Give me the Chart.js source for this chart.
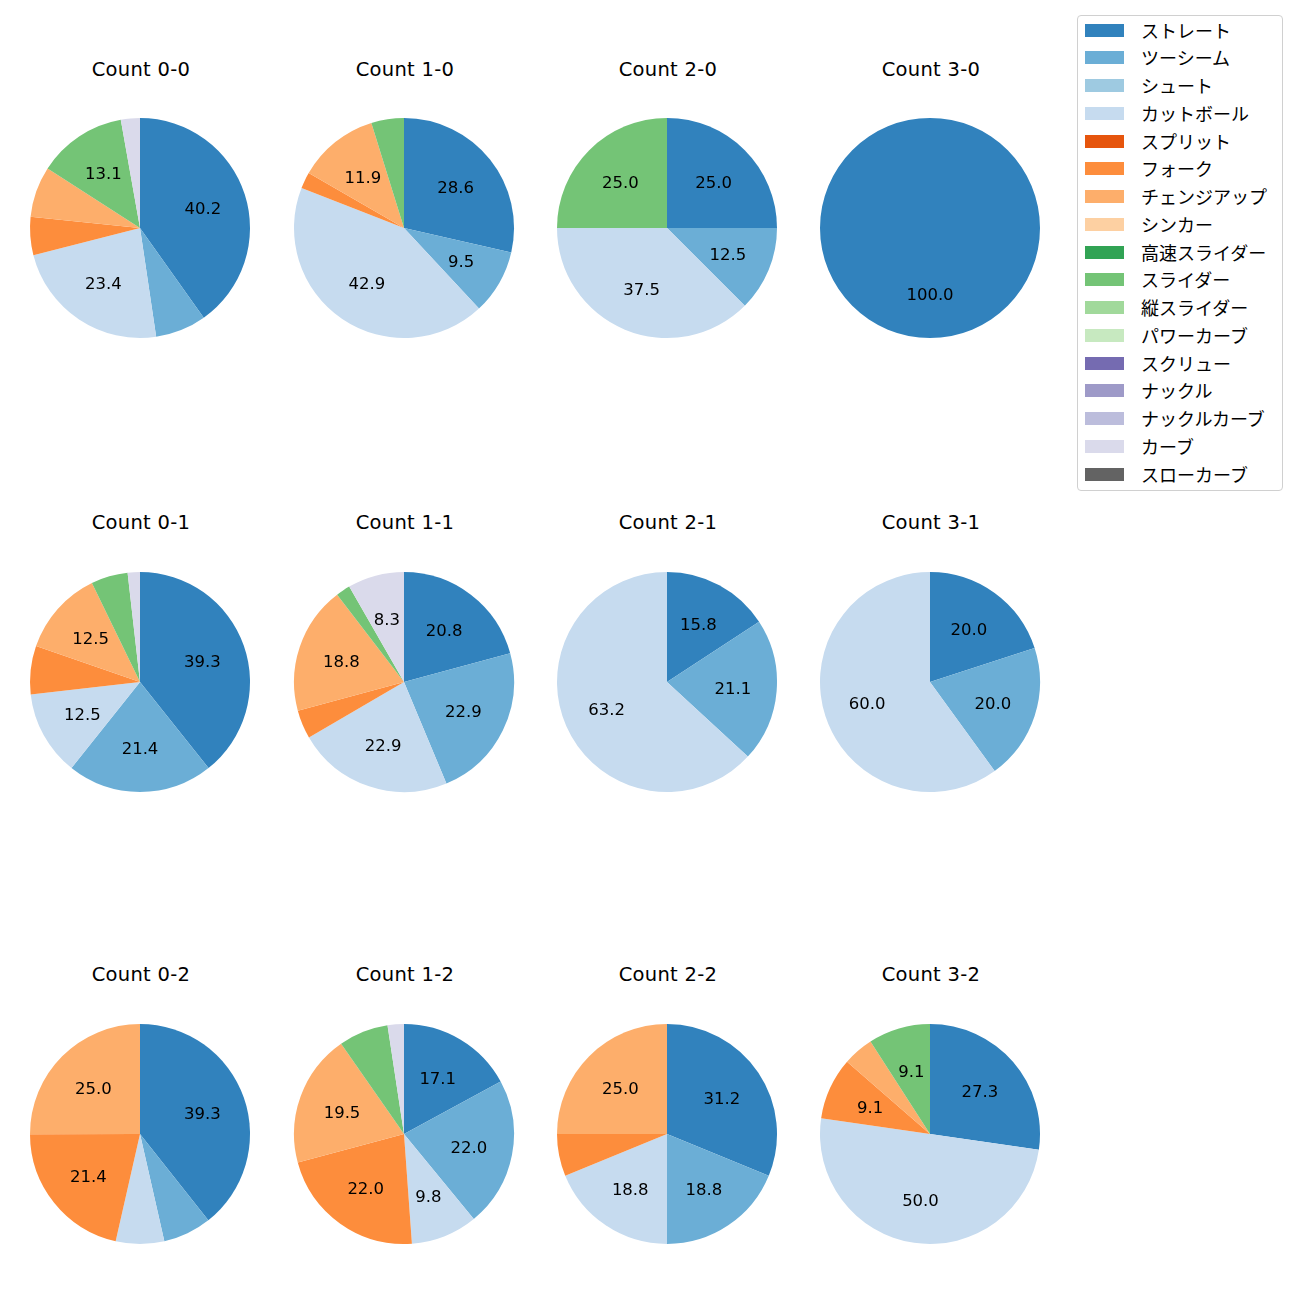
<!DOCTYPE html>
<html>
<head>
<meta charset="utf-8">
<script src="https://cdn.jsdelivr.net/npm/chart.js@4/dist/chart.umd.min.js"></script>
<style>
  html, body { margin: 0; padding: 0; background: #fff; }
  body { width: 1300px; height: 1300px; position: relative; overflow: hidden;
         font-family: "Noto Sans CJK JP", "Noto Sans", sans-serif; }
  .title { position: absolute; width: 240px; text-align: center; font-size: 19.5px;
           font-family: "DejaVu Sans", sans-serif; letter-spacing: 0.3px;
           color: #000; line-height: 1; }
  .pie { position: absolute; width: 224px; height: 224px; }
  #legend { position: absolute; left: 1077px; top: 15px; width: 204px; height: 474px;
            border: 1px solid #d0d0d0; border-radius: 4px; background: #fff; }
  .lg-box { position: absolute; left: 7px; width: 39px; height: 13px; }
  .lg-text { position: absolute; left: 63px; font-size: 18px; line-height: 1; white-space: nowrap; color: #000; }
</style>
</head>
<body>
<div id="legend"></div>
<script>
// Pitch types (legend order)
const pitchTypes = ["ストレート","ツーシーム","シュート","カットボール","スプリット","フォーク","チェンジアップ","シンカー","高速スライダー","スライダー","縦スライダー","パワーカーブ","スクリュー","ナックル","ナックルカーブ","カーブ","スローカーブ"];
const pitchColors = ["#3182bd","#6baed6","#9ecae1","#c6dbef","#e6550d","#fd8d3c","#fdae6b","#fdd0a2","#31a354","#74c476","#a1d99b","#c7e9c0","#756bb1","#9e9ac8","#bcbddc","#dadaeb","#636363"];

// Counts (titles)
const countLabels = ["Count 0-0","Count 1-0","Count 2-0","Count 3-0",
                     "Count 0-1","Count 1-1","Count 2-1","Count 3-1",
                     "Count 0-2","Count 1-2","Count 2-2","Count 3-2"];

// Percentages per pitch type (same order as pitchTypes)
const count00 = [40.2, 7.5, 0, 23.4, 0, 5.6, 7.5, 0, 0, 13.1, 0, 0, 0, 0, 0, 2.8, 0];
const count10 = [28.6, 9.5, 0, 42.9, 0, 2.4, 11.9, 0, 0, 4.8, 0, 0, 0, 0, 0, 0, 0];
const count20 = [25.0, 12.5, 0, 37.5, 0, 0, 0, 0, 0, 25.0, 0, 0, 0, 0, 0, 0, 0];
const count30 = [100.0, 0, 0, 0, 0, 0, 0, 0, 0, 0, 0, 0, 0, 0, 0, 0, 0];
const count01 = [39.3, 21.4, 0, 12.5, 0, 7.1, 12.5, 0, 0, 5.4, 0, 0, 0, 0, 0, 1.8, 0];
const count11 = [20.8, 22.9, 0, 22.9, 0, 4.2, 18.8, 0, 0, 2.1, 0, 0, 0, 0, 0, 8.3, 0];
const count21 = [15.8, 21.1, 0, 63.2, 0, 0, 0, 0, 0, 0, 0, 0, 0, 0, 0, 0, 0];
const count31 = [20.0, 20.0, 0, 60.0, 0, 0, 0, 0, 0, 0, 0, 0, 0, 0, 0, 0, 0];
const count02 = [39.3, 7.1, 0, 7.1, 0, 21.4, 25.0, 0, 0, 0, 0, 0, 0, 0, 0, 0, 0];
const count12 = [17.1, 22.0, 0, 9.8, 0, 22.0, 19.5, 0, 0, 7.3, 0, 0, 0, 0, 0, 2.4, 0];
const count22 = [31.2, 18.8, 0, 18.8, 0, 6.2, 25.0, 0, 0, 0, 0, 0, 0, 0, 0, 0, 0];
const count32 = [27.3, 0, 0, 50.0, 0, 9.1, 4.5, 0, 0, 9.1, 0, 0, 0, 0, 0, 0, 0];

const allCounts = [count00, count10, count20, count30,
                   count01, count11, count21, count31,
                   count02, count12, count22, count32];

const labelThreshold = 8;

// layout
const colX = [140, 404, 667, 930];
const rowY = [228, 682, 1134];
const titleY = [68, 521, 973];

const pctLabelPlugin = {
  id: 'pctLabels',
  afterDatasetsDraw(chart) {
    const ctx = chart.ctx;
    const meta = chart.getDatasetMeta(0);
    const data = chart.data.datasets[0].data;
    ctx.save();
    ctx.font = '16.5px "DejaVu Sans", sans-serif';
    ctx.fillStyle = '#000';
    ctx.textAlign = 'center';
    ctx.textBaseline = 'middle';
    meta.data.forEach((arc, i) => {
      const v = data[i];
      if (!v || v < labelThreshold) return;
      const p = arc.getProps(['x','y','startAngle','endAngle','outerRadius'], true);
      const mid = (p.startAngle + p.endAngle) / 2;
      const r = p.outerRadius * 0.6;
      ctx.fillText(v.toFixed(1), p.x + Math.cos(mid) * r, p.y + Math.sin(mid) * r + 2);
    });
    ctx.restore();
  }
};

allCounts.forEach((vals, idx) => {
  const c = idx % 4, r = Math.floor(idx / 4);
  const t = document.createElement('div');
  t.className = 'title';
  t.textContent = countLabels[idx];
  t.style.left = (colX[c] - 119) + 'px';
  t.style.top = (titleY[r] - 8) + 'px';
  document.body.appendChild(t);

  const wrap = document.createElement('div');
  wrap.className = 'pie';
  wrap.style.left = (colX[c] - 112) + 'px';
  wrap.style.top = (rowY[r] - 112) + 'px';
  const cv = document.createElement('canvas');
  wrap.appendChild(cv);
  document.body.appendChild(wrap);

  new Chart(cv, {
    type: 'pie',
    data: {
      labels: pitchTypes,
      datasets: [{ data: vals, backgroundColor: pitchColors, borderWidth: 0 }]
    },
    options: {
      responsive: true,
      maintainAspectRatio: false,
      animation: false,
      layout: { padding: 2 },
      plugins: { legend: { display: false }, tooltip: { enabled: false }, title: { display: false } }
    },
    plugins: [pctLabelPlugin]
  });
});

// legend
const lg = document.getElementById('legend');
pitchTypes.forEach((name, i) => {
  const cy = 14 + i * 27.75;
  const box = document.createElement('div');
  box.className = 'lg-box';
  box.style.top = (cy - 6.5) + 'px';
  box.style.background = pitchColors[i];
  lg.appendChild(box);
  const tx = document.createElement('div');
  tx.className = 'lg-text';
  tx.style.top = (cy - 9.5) + 'px';
  tx.textContent = name;
  lg.appendChild(tx);
});
</script>
</body>
</html>
